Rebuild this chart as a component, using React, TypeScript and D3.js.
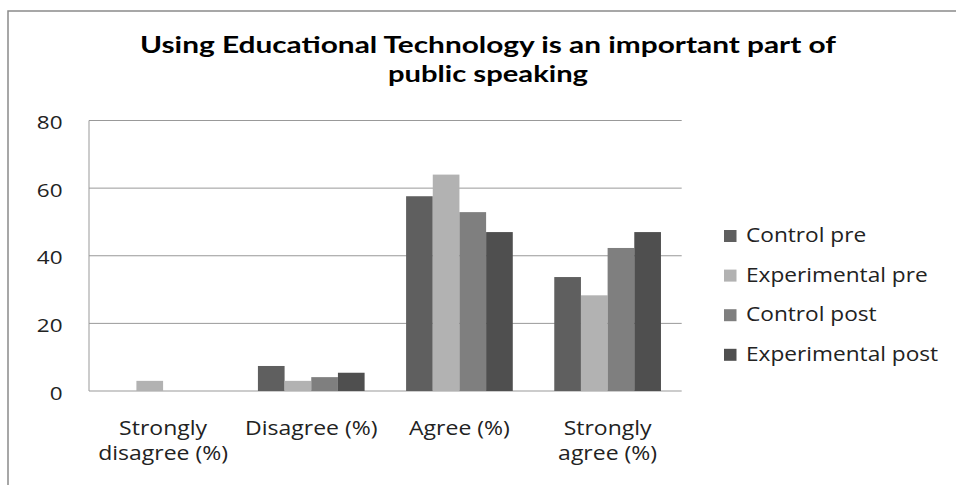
import React from "react";
import * as d3 from "d3";

const categories = ["Strongly disagree (%)", "Disagree (%)", "Agree (%)", "Strongly agree (%)"];
const categoryLines = [["Strongly", "disagree (%)"], ["Disagree (%)"], ["Agree (%)"], ["Strongly", "agree (%)"]];
const seriesNames = ["Control pre", "Experimental pre", "Control post", "Experimental post"];
const controlPre = [0, 7.4, 57.6, 33.7];
const experimentalPre = [3.0, 3.0, 64, 28.3];
const controlPost = [0, 4.1, 52.9, 42.3];
const experimentalPost = [0, 5.4, 47.0, 47.0];
const seriesValues = [controlPre, experimentalPre, controlPost, experimentalPost];
const seriesColors = ["#5f5f5f", "#b2b2b2", "#7f7f7f", "#4f4f4f"];
const yTicks = [0, 20, 40, 60, 80];
const titleLines = ["Using Educational Technology is an important part of", "public speaking"];
const titleWidths = [696, 200];

const FONT = "'Open Sans', sans-serif";

function T({ x, y, sx, anchor, size, weight, children, fill = "#222" }: any) {
  return (
    <text
      transform={`translate(${x},${y}) scale(${sx},1)`}
      textAnchor={anchor}
      fontFamily={FONT}
      fontSize={size}
      fontWeight={weight || 400}
      fill={fill}
    >
      {children}
    </text>
  );
}

export default function App() {
  const W = 956, H = 485;
  const left = 89, right = 681.7, top = 120.5, bottom = 391;
  const x0 = d3.scaleBand<string>().domain(categories).range([left, right]).paddingInner(0.28).paddingOuter(0.14);
  const x1 = d3.scaleBand<string>().domain(seriesNames).range([0, x0.bandwidth()]);
  const y = d3.scaleLinear().domain([0, 80]).range([bottom, top]);

  return (
    <svg width={W} height={H} style={{ position: "absolute", left: 0, top: 0, background: "#fff" }}>
      <rect x={8} y={11} width={W} height={H} fill="#fff" stroke="#8a8a8a" strokeWidth={1.5} />
      {titleLines.map((t, i) => (
        <text
          key={i}
          x={488 - titleWidths[i] / 2}
          y={53.3 + i * 28.4}
          textLength={titleWidths[i]}
          lengthAdjust="spacingAndGlyphs"
          fontFamily="Lato, sans-serif"
          fontSize={23.5}
          fontWeight={700}
          fill="#000"
        >
          {t}
        </text>
      ))}
      {yTicks.map((t) => (
        <g key={t}>
          <line x1={left} x2={right} y1={y(t)} y2={y(t)} stroke="#999" strokeWidth={1} />
          <T x={62.5} y={y(t) + 8.5} sx={1.25} anchor="end" size={18}>
            {t}
          </T>
        </g>
      ))}
      <line x1={left} x2={left} y1={top} y2={bottom} stroke="#999" strokeWidth={1} />
      {categories.map((c, ci) => (
        <g key={c}>
          {seriesNames.map((s, si) => {
            const v = seriesValues[si][ci];
            if (!v) return null;
            return (
              <rect
                key={s}
                x={(x0(c) as number) + (x1(s) as number)}
                y={y(v)}
                width={x1.bandwidth()}
                height={y(0) - y(v)}
                fill={seriesColors[si]}
              />
            );
          })}
          {categoryLines[ci].map((ln, li) => (
            <T
              key={li}
              x={(x0(c) as number) + x0.bandwidth() / 2}
              y={434.5 + li * 25.5}
              sx={1.15}
              anchor="middle"
              size={20}
            >
              {ln}
            </T>
          ))}
        </g>
      ))}
      {seriesNames.map((s, si) => (
        <g key={s} transform={`translate(724, ${235.5 + si * 39.6})`}>
          <rect x={0} y={-5.5} width={12.5} height={12} fill={seriesColors[si]} />
          <T x={22} y={6.5} sx={1.133} anchor="start" size={20}>
            {s}
          </T>
        </g>
      ))}
    </svg>
  );
}
